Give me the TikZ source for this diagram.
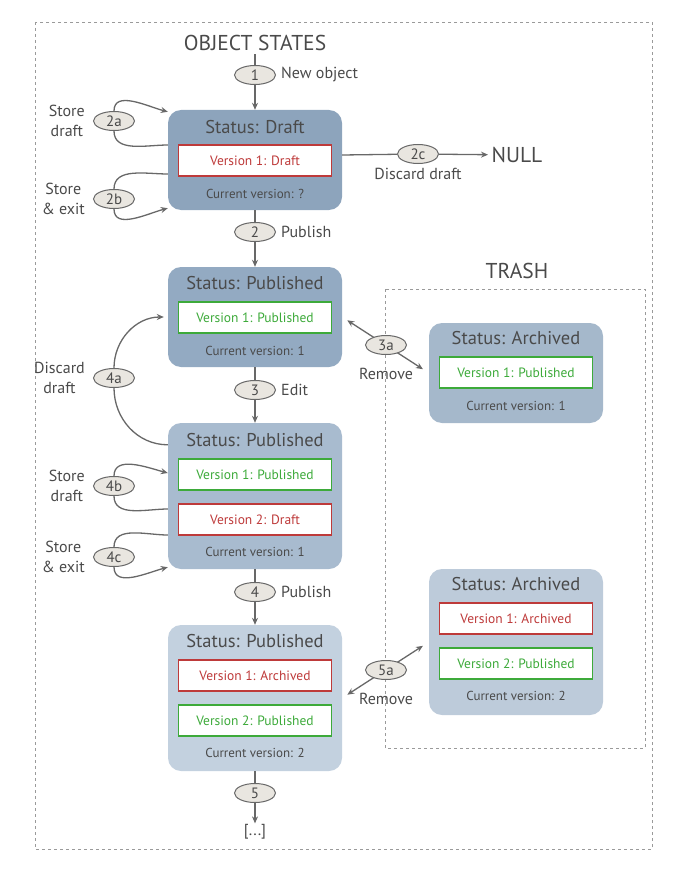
\documentclass[tikz,border=0pt]{standalone}
\usepackage{fontspec}
\setmainfont{PT Sans}
\usetikzlibrary{arrows.meta,positioning,shapes.geometric}

\definecolor{inkgray}{HTML}{4A4A4A}
\definecolor{linegray}{HTML}{686868}
\definecolor{framegray}{HTML}{9A9A9A}
\definecolor{ovalfill}{HTML}{E9E6E0}
\definecolor{draftred}{HTML}{BE3A3A}
\definecolor{pubgreen}{HTML}{3DAA3A}
\definecolor{draftblue}{HTML}{8DA4BC}
\definecolor{pubblueA}{HTML}{93AAC2}
\definecolor{pubblueB}{HTML}{A8BBCF}
\definecolor{pubblueC}{HTML}{C3D1DF}
\definecolor{archblueA}{HTML}{A5B8CB}
\definecolor{archblueB}{HTML}{BDCBDA}

\begin{document}
\begin{tikzpicture}[
    x=1pt, y=-1pt,
    every node/.style={text=inkgray},
    statebox/.style={rectangle, rounded corners=13pt, minimum width=174pt, inner sep=0},
    smallstate/.style={statebox, minimum height=100pt},
    tallstate/.style={statebox, minimum height=146pt},
    boxtitle/.style={font=\fontsize{18.5}{22}\selectfont},
    ver/.style={rectangle, fill=white, line width=1.7pt, minimum width=153pt, minimum height=31pt,
        inner sep=0, font=\fontsize{13.5}{16}\selectfont},
    redver/.style={ver, draw=draftred, text=draftred},
    greenver/.style={ver, draw=pubgreen, text=pubgreen},
    current/.style={font=\fontsize{13}{15}\selectfont},
    tag/.style={ellipse, draw=linegray, fill=ovalfill, line width=1pt, minimum width=41pt,
        minimum height=19pt, inner sep=0, font=\fontsize{15}{16}\selectfont},
    note/.style={font=\fontsize{16}{20}\selectfont, align=center, inner sep=1pt},
    heading/.style={font=\fontsize{21.5}{25}\selectfont},
    flow/.style={draw=linegray, line width=1.3pt, >={Stealth[length=7pt,width=6pt]}},
    frame/.style={draw=framegray, dashed, line width=0.7pt}]

\useasboundingbox (0,0) rectangle (678,880);
\draw[frame] (35,22) rectangle (652,849);

% object states column
\node[heading] (objstates) at (255,43) {OBJECT STATES};
\node[tag] (s1) at (255,75) {1};
\node[note, right=4pt of s1] (newobj) {New object};

\node[smallstate, fill=draftblue] (draft) at (255,160) {};
\node[boxtitle] (draftT) at ([yshift=-17pt]draft.north) {Status: Draft};
\node[redver] (draftV1) at ([yshift=-51pt]draft.north) {Version 1: Draft};
\node[current] (draftC) at ([yshift=-84pt]draft.north) {Current version: ?};

\node[tag] (s2a) at (114,121) {2a};
\node[note, left=7pt of s2a] (storeA) {Store\\draft};
\node[tag] (s2b) at (114,199) {2b};
\node[note, left=7pt of s2b] (storeB) {Store\\\& exit};
\node[tag] (s2c) at (418,154) {2c};
\node[note, below=3pt of s2c] (discardC) {Discard draft};
\node[heading, anchor=west] (null) at (488,155) {NULL};

\node[tag] (s2) at (255,232) {2};
\node[note, right=4pt of s2] (publishA) {Publish};

\node[smallstate, fill=pubblueA] (pubA) at (255,317) {};
\node[boxtitle] (pubAT) at ([yshift=-16pt]pubA.north) {Status: Published};
\node[greenver] (pubAV1) at ([yshift=-51pt]pubA.north) {Version 1: Published};
\node[current] (pubAC) at ([yshift=-84pt]pubA.north) {Current version: 1};

\node[tag] (s3) at (255,390) {3};
\node[note, right=4pt of s3] (edit) {Edit};
\node[tag] (s4a) at (114,378) {4a};
\node[note, left=7pt of s4a] (discardA) {Discard\\draft};

\node[tallstate, fill=pubblueB] (pubB) at (255,496) {};
\node[boxtitle] (pubBT) at ([yshift=-17pt]pubB.north) {Status: Published};
\node[greenver] (pubBV1) at ([yshift=-52pt]pubB.north) {Version 1: Published};
\node[redver] (pubBV2) at ([yshift=-97pt]pubB.north) {Version 2: Draft};
\node[current] (pubBC) at ([yshift=-129pt]pubB.north) {Current version: 1};

\node[tag] (s4b) at (114,486) {4b};
\node[note, left=7pt of s4b] (storeC) {Store\\draft};
\node[tag] (s4c) at (114,557) {4c};
\node[note, left=7pt of s4c] (storeD) {Store\\\& exit};

\node[tag] (s4) at (255,592) {4};
\node[note, right=4pt of s4] (publishB) {Publish};

\node[tallstate, fill=pubblueC] (pubC) at (255,698) {};
\node[boxtitle] (pubCT) at ([yshift=-16pt]pubC.north) {Status: Published};
\node[redver] (pubCV1) at ([yshift=-51pt]pubC.north) {Version 1: Archived};
\node[greenver] (pubCV2) at ([yshift=-96pt]pubC.north) {Version 2: Published};
\node[current] (pubCC) at ([yshift=-128pt]pubC.north) {Current version: 2};

\node[tag] (s5) at (255,793) {5};
\node[note] (more) at (255,832) {[...]};

% trash
\node[heading] (trash) at (517,271) {TRASH};
\draw[frame] (385,289) rectangle (645,748);

\node[smallstate, fill=archblueA] (archA) at (516,373) {};
\node[boxtitle] (archAT) at ([yshift=-15pt]archA.north) {Status: Archived};
\node[greenver] (archAV1) at ([yshift=-50pt]archA.north) {Version 1: Published};
\node[current] (archAC) at ([yshift=-83pt]archA.north) {Current version: 1};

\node[tallstate, fill=archblueB] (archB) at (516,642) {};
\node[boxtitle] (archBT) at ([yshift=-15pt]archB.north) {Status: Archived};
\node[redver] (archBV1) at ([yshift=-50pt]archB.north) {Version 1: Archived};
\node[greenver] (archBV2) at ([yshift=-95pt]archB.north) {Version 2: Published};
\node[current] (archBC) at ([yshift=-127pt]archB.north) {Current version: 2};

% main line
\draw[flow] (objstates.south) -- (s1);
\draw[flow, ->] (s1) -- (draft);
\draw[flow] (draft) -- (s2);
\draw[flow, ->] (s2) -- (pubA);
\draw[flow] (pubA) -- (s3);
\draw[flow, ->] (s3) -- (pubB);
\draw[flow] (pubB) -- (s4);
\draw[flow, ->] (s4) -- (pubC);
\draw[flow] (pubC) -- (s5);
\draw[flow, ->] (s5) -- (more);

% loops
\draw[flow] ([yshift=15pt]draft.west) to[out=180, in=-90] (s2a.south);
\draw[flow, ->] (s2a.north) to[out=90, in=165] ([yshift=-2pt]draft.north west);
\draw[flow] ([yshift=-14pt]draft.west) to[out=180, in=90] (s2b.north);
\draw[flow, ->] (s2b.south) to[out=-90, in=195] ([yshift=2pt]draft.south west);
\draw[flow] ([yshift=5pt]draft.east) -- (s2c);
\draw[flow, ->] (s2c) -- (null);

\draw[flow] ([yshift=-22pt]pubB.north west) to[out=180, in=-90] (s4a.south);
\draw[flow, ->] (s4a.north) to[out=90, in=180] ([xshift=-4pt]pubA.west);
\draw[flow] ([yshift=-13pt]pubB.west) to[out=180, in=-90] (s4b.south);
\draw[flow, ->] (s4b.north) to[out=90, in=165] ([yshift=23pt]pubB.west);
\draw[flow] ([yshift=-39pt]pubB.west) to[out=180, in=90] (s4c.north);
\draw[flow, ->] (s4c.south) to[out=-90, in=195] ([yshift=2pt]pubB.south west);

% remove to trash
\draw[flow, <->, shorten <=6pt, shorten >=7pt] (pubA.east) -- (archA.west);
\node[tag] (s3a) at (386,345) {3a};
\node[note, below=12pt of s3a] (removeA) {Remove};
\draw[flow, <->, shorten <=6pt, shorten >=7pt] (pubC.east) -- (archB.west);
\node[tag] (s5a) at (386,670) {5a};
\node[note, below=12pt of s5a] (removeB) {Remove};

\end{tikzpicture}
\end{document}
